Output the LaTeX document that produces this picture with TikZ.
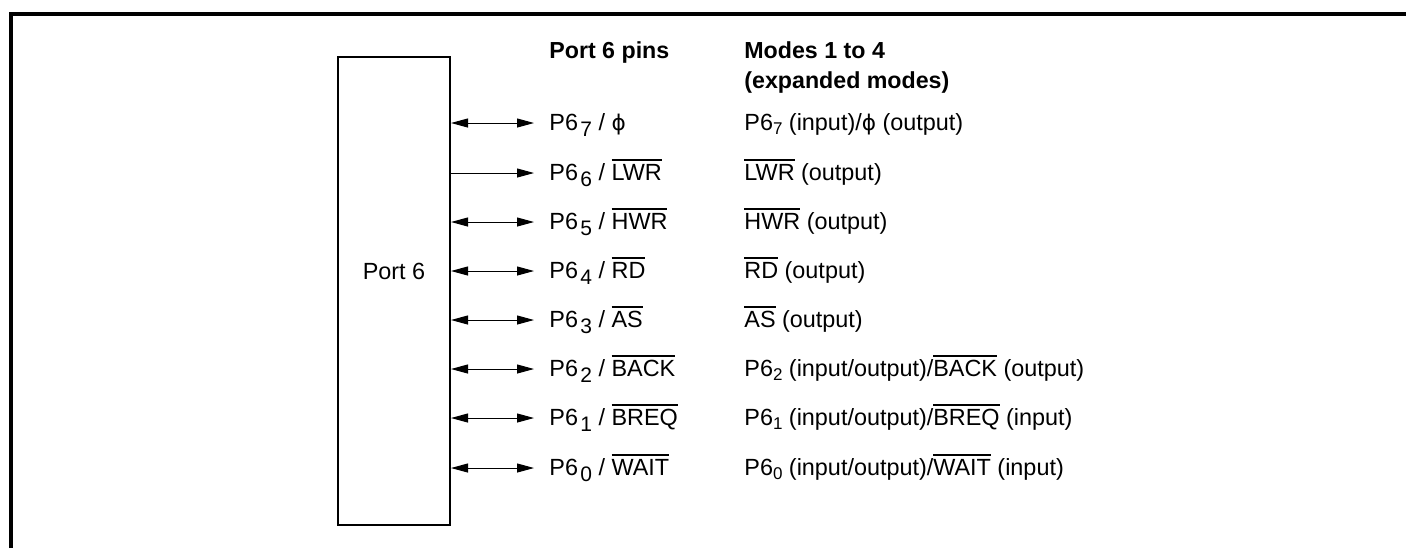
\documentclass[tikz,border=0pt]{standalone}
\usepackage{fontspec}
\setmainfont{Liberation Sans}
\newfontfamily\phifont{DejaVu Sans}
\usetikzlibrary{arrows.meta}
\newcommand{\ovl}[1]{\mbox{\setbox0\hbox{#1}\rlap{\rule[0.83em]{\wd0}{0.55pt}}\box0}}
\newcommand{\pinsub}[1]{\kern1.2pt\raisebox{-0.5ex}{\fontsize{10.5}{12}\selectfont #1}}
\newcommand{\modesub}[1]{\raisebox{-0.35ex}{\fontsize{8.5}{10}\selectfont #1}}
\newcommand{\phich}{{\phifont\fontsize{10.8}{12}\selectfont ϕ}}
\begin{document}
\begin{tikzpicture}[x=0.5pt,y=-0.5pt,
  txt/.style={font=\fontsize{11.7}{14}\selectfont, inner sep=0pt, anchor=base west},
  hdr/.style={font=\fontsize{11.6}{14}\selectfont\bfseries, inner sep=0pt, anchor=base west, align=left},
  biarrow/.style={line width=0.5pt, {Triangle[length=8.5pt,width=4.5pt]}-{Triangle[length=8.5pt,width=4.5pt]}},
  outarrow/.style={line width=0.5pt, -{Triangle[length=8.5pt,width=4.5pt]}},
  portbox/.style={draw, line width=1pt, minimum width=56pt, minimum height=234pt, inner sep=0pt}]
\useasboundingbox (0,0) rectangle (1406,548);
\draw[line width=1.6pt] (11,548) -- (11,14) -- (1406,14);
\node[portbox] (port) at (394,291) {};
\node[font=\fontsize{11.7}{14}\selectfont, inner sep=0pt] (portlbl) at (394,271) {Port 6};
\node[hdr] (h1) at (549,58) {Port 6 pins};
\node[hdr] (h2) at (744,58) {Modes 1 to 4};
\node[hdr] (h3) at (744,88) {(expanded modes)};
% rows
\foreach \n/\y in {7/123,6/173,5/222,4/271,3/320,2/369,1/418,0/468}{
  \coordinate (e\n) at (534,\y);
}
\node[txt] (p7) at (549,130) {P6\pinsub{7} / \phich};
\node[txt] (p6) at (549,180) {P6\pinsub{6} / \ovl{LWR}};
\node[txt] (p5) at (549,229) {P6\pinsub{5} / \ovl{HWR}};
\node[txt] (p4) at (549,278) {P6\pinsub{4} / \ovl{RD}};
\node[txt] (p3) at (549,327) {P6\pinsub{3} / \ovl{AS}};
\node[txt] (p2) at (549,376) {P6\pinsub{2} / \ovl{BACK}};
\node[txt] (p1) at (549,425) {P6\pinsub{1} / \ovl{BREQ}};
\node[txt] (p0) at (549,475) {P6\pinsub{0} / \ovl{WAIT}};
\node[txt] (m7) at (744,130) {P6\modesub{7} (input)/\phich\ (output)};
\node[txt] (m6) at (744,180) {\ovl{LWR} (output)};
\node[txt] (m5) at (744,229) {\ovl{HWR} (output)};
\node[txt] (m4) at (744,278) {\ovl{RD} (output)};
\node[txt] (m3) at (744,327) {\ovl{AS} (output)};
\node[txt] (m2) at (744,376) {P6\modesub{2} (input/output)/\ovl{BACK} (output)};
\node[txt] (m1) at (744,425) {P6\modesub{1} (input/output)/\ovl{BREQ} (input)};
\node[txt] (m0) at (744,475) {P6\modesub{0} (input/output)/\ovl{WAIT} (input)};
\draw[biarrow] (port.east |- e7) -- (e7);
\draw[outarrow] (port.east |- e6) -- (e6);
\foreach \n in {5,4,3,2,1,0}{
  \draw[biarrow] (port.east |- e\n) -- (e\n);
}
\end{tikzpicture}
\end{document}
